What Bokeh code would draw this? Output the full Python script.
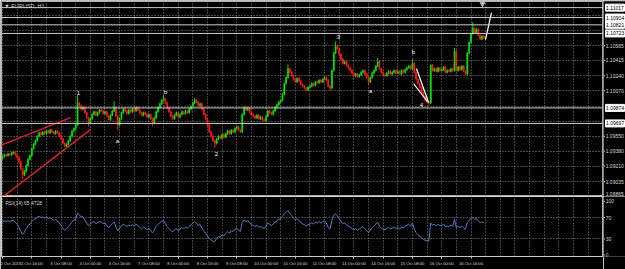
import numpy as np
from bokeh.plotting import figure
from bokeh.layouts import column, row
from bokeh.models import Range1d, FixedTicker, Span, Label, ColumnDataSource
from bokeh.core.properties import value
from bokeh.embed import file_html
from bokeh.resources import INLINE

# ---------------- data ----------------
symbol_title = "\u25BC EURUSD, H1"
rsi_title = "RSI(14) 65.4728"
first_open = 1.0930
closes = [
    1.0932, 1.0934, 1.0933, 1.0935, 1.0934, 1.0936, 1.0937, 1.0934, 1.0931,
    1.0926, 1.0918, 1.0911,
    1.0915, 1.0922, 1.0929, 1.0933, 1.0941, 1.0946, 1.0950, 1.0955, 1.0959,
    1.0957, 1.0960, 1.0958, 1.0961, 1.0959, 1.0962, 1.0960, 1.0958, 1.0961,
    1.0959, 1.0956, 1.0952, 1.0947, 1.0944, 1.0946,
    1.0950, 1.0955, 1.0961, 1.0964, 1.0968,
    1.0993, 1.0990, 1.0986, 1.0988, 1.0982, 1.0976, 1.0970, 1.0975,
    1.0980, 1.0983, 1.0979, 1.0982, 1.0985, 1.0984, 1.0981,
    1.0983, 1.0978, 1.0974, 1.0979,
    1.0984, 1.0988, 1.0978, 1.0968,
    1.0975, 1.0982, 1.0986, 1.0984, 1.0981, 1.0985, 1.0983, 1.0986,
    1.0984, 1.0988, 1.0985, 1.0982, 1.0979, 1.0982, 1.0980, 1.0977,
    1.0980, 1.0975, 1.0970, 1.0976,
    1.0983, 1.0988, 1.0992, 1.0996, 1.0998,
    1.0993, 1.0987, 1.0983, 1.0978,
    1.0975, 1.0979, 1.0982, 1.0977,
    1.0980, 1.0983, 1.0981, 1.0984,
    1.0982, 1.0986, 1.0989, 1.0993, 1.0996,
    1.0994, 1.0990, 1.0992,
    1.0986, 1.0980, 1.0975, 1.0968,
    1.0960, 1.0955, 1.0950, 1.0947, 1.0952, 1.0955, 1.0953,
    1.0957, 1.0954, 1.0958, 1.0961, 1.0958, 1.0962, 1.0960, 1.0964,
    1.0966, 1.0962, 1.0960,
    1.0980, 1.0988, 1.0985, 1.0987,
    1.0983, 1.0980, 1.0978, 1.0976, 1.0979, 1.0975, 1.0977, 1.0974,
    1.0973,
    1.0978, 1.0984, 1.0982, 1.0980,
    1.0984, 1.0988, 1.0991, 1.0994, 1.0996,
    1.1003, 1.1015, 1.1022, 1.1032,
    1.1028, 1.1024, 1.1020, 1.1017,
    1.1021, 1.1018, 1.1014, 1.1012,
    1.1010, 1.1008, 1.1011,
    1.1012, 1.1015, 1.1013, 1.1017, 1.1016,
    1.1019, 1.1017, 1.1020, 1.1022, 1.1019,
    1.1012, 1.1010,
    1.1030, 1.1050, 1.1058,
    1.1055, 1.1048, 1.1043, 1.1038,
    1.1040, 1.1036, 1.1033, 1.1030, 1.1027,
    1.1024, 1.1026, 1.1023, 1.1025,
    1.1028, 1.1030, 1.1026, 1.1022,
    1.1017,
    1.1022, 1.1027, 1.1030,
    1.1035, 1.1040,
    1.1032, 1.1028, 1.1025, 1.1024,
    1.1027, 1.1029, 1.1026, 1.1028, 1.1030, 1.1027,
    1.1029, 1.1026, 1.1030, 1.1028, 1.1031, 1.1033,
    1.1035, 1.1032, 1.1038,
    1.1028, 1.1020, 1.1015, 1.1011, 1.1005, 1.1000, 1.0996, 1.0994, 1.0993,
    1.1036, 1.1030, 1.1032, 1.1029, 1.1033, 1.1030,
    1.1031, 1.1034, 1.1028, 1.1030, 1.1029, 1.1032, 1.1030,
    1.1052, 1.1030, 1.1034, 1.1031, 1.1035, 1.1029, 1.1026,
    1.1050, 1.1062, 1.1072, 1.1078, 1.1073, 1.1077, 1.1070, 1.1066, 1.1069, 1.1067,
]
wick_default = 0.00012
high_marks = {41: 1.1002, 61: 1.0995, 88: 1.1002, 105: 1.0999, 156: 1.1037,
              182: 1.1063, 205: 1.1044, 224: 1.1043, 247: 1.1056, 257: 1.1085}
low_marks = {11: 1.0906, 47: 1.0966, 63: 1.0962, 82: 1.0966, 116: 1.0942,
             179: 1.1007, 200: 1.1013, 233: 1.0990}

# RSI(14) state carried in from the bars before the visible window
rsi_period = 14
rsi_seed_gain = 0.00030
rsi_seed_loss = 0.00019

price_ticks = [1.08865, 1.09035, 1.09210, 1.09380, 1.09550, 1.10070,
               1.10240, 1.10415, 1.10585]
grid_price_ticks = price_ticks + [1.09720, 1.09890, 1.10755, 1.10925]
level_lines = [1.11017, 1.10904, 1.10821, 1.10723, 1.09874, 1.09697]

time_ticks = list(range(0, 257, 16))
time_labels = ["2 Oct 2019", "2 Oct 16:00", "3 Oct 08:00", "4 Oct 00:00",
               "4 Oct 16:00", "7 Oct 08:00", "8 Oct 00:00", "8 Oct 16:00",
               "9 Oct 08:00", "10 Oct 00:00", "10 Oct 16:00", "11 Oct 08:00",
               "14 Oct 00:00", "14 Oct 16:00", "15 Oct 08:00", "16 Oct 00:00",
               "16 Oct 16:00"]
grid_time_ticks = list(range(0, 330, 8))

rsi_ticks = [0, 30, 70, 100]
rsi_grid = [30, 70]

wave_text = ["1", "a", "b", "2", "3", "a", "b", "4"]
wave_bar = [41.5, 62.8, 89.1, 116.9, 183.6, 201.1, 224.6, 228.9]
wave_price = [1.1004, 1.0950, 1.1005, 1.0935, 1.1068, 1.1007, 1.1051, 1.0991]

red_lines_x = [[-1.1, 37.2], [-1.1, 48.1]]
red_lines_y = [[1.09445, 1.09764], [1.0884, 1.09627]]
white_lines_x = [[226.2, 232.8], [224.6, 232.2], [263.9, 267.2]]
white_lines_y = [[1.10323, 1.09935], [1.10152, 1.09947], [1.10653, 1.10961]]

# ---------------- derived ----------------
n = len(closes)
idx = np.arange(n)
opens = [first_open] + closes[:-1]
tops = [max(o, c) for o, c in zip(opens, closes)]
bots = [min(o, c) for o, c in zip(opens, closes)]
highs = [high_marks.get(i, tops[i] + wick_default) for i in range(n)]
lows = [low_marks.get(i, bots[i] - wick_default) for i in range(n)]
colors = ["#00e000" if c >= o else "#ff1a1a" for o, c in zip(opens, closes)]
src = ColumnDataSource(dict(x=idx, top=tops, bottom=bots, high=highs, low=lows,
                            color=colors))

ag, al = rsi_seed_gain, rsi_seed_loss
rsi = []
for o, c in zip(opens, closes):
    ch = c - o
    ag = (ag * (rsi_period - 1) + max(ch, 0.0)) / rsi_period
    al = (al * (rsi_period - 1) + max(-ch, 0.0)) / rsi_period
    rsi.append(100 - 100 / (1 + ag / al))

BG = "black"
GRID = "#8a8a8a"
AXC = "#c8c8c8"
LBL = "#d8d8d8"
FONT = "Liberation Sans"

xr = Range1d(-0.55, 328.4)
py = Range1d(1.08864, 1.11087)
ry = Range1d(-2.85, 109.3)

# ---------------- price panel ----------------
p = figure(width=603, height=196, x_range=xr, y_range=py,
           x_axis_location=None, y_axis_location=None,
           min_border_left=1, min_border_right=0, min_border_top=1,
           min_border_bottom=0, output_backend="svg", toolbar_location=None,
           background_fill_color=BG, border_fill_color=BG,
           outline_line_color="#b0b0b0")
p.xgrid.ticker = FixedTicker(ticks=grid_time_ticks)
p.ygrid.ticker = FixedTicker(ticks=grid_price_ticks)
for g in (p.xgrid, p.ygrid):
    g.grid_line_color = GRID
    g.grid_line_dash = "1 2"
    g.grid_line_width = 1

for lv in level_lines:
    p.add_layout(Span(location=lv, dimension="width", line_color="#cfcfcf",
                      line_width=1))

p.segment(x0="x", y0="low", x1="x", y1="high", color="color", line_width=1,
          source=src)
p.vbar(x="x", width=0.65, top="top", bottom="bottom", fill_color="color",
       line_color="color", line_width=0.5, source=src)

p.multi_line(xs=red_lines_x, ys=red_lines_y, line_color="#e0202a", line_width=1.4)
p.multi_line(xs=white_lines_x, ys=white_lines_y, line_color="white", line_width=1.2)

p.text(x=wave_bar, y=wave_price, text=wave_text, text_color="white",
       text_font_size="6px", text_align="center", text_baseline="middle",
       text_font=value(FONT))
p.scatter(x=[262.3], y=[1.11062], marker="inverted_triangle", size=5,
          color="#bdbdbd")
p.add_layout(Label(x=1.0, y=1.11041, text=symbol_title, text_font_size="5.5px",
                   text_color="#d0d0d0", text_baseline="middle", text_font=FONT))

# price scale strip (right)
s = figure(width=22, height=196, x_range=Range1d(0, 22), y_range=py,
           x_axis_location=None, y_axis_location=None,
           min_border_left=0, min_border_right=0, min_border_top=1,
           min_border_bottom=0, output_backend="svg", toolbar_location=None,
           background_fill_color=BG, border_fill_color=BG,
           outline_line_color=None)
s.grid.visible = False
s.segment(x0=[0] * len(price_ticks), y0=price_ticks, x1=[1.5] * len(price_ticks),
          y1=price_ticks, line_color=AXC, line_width=1)
s.text(x=[2.2] * (len(price_ticks) - 1), y=price_ticks[1:],
       text=[f"{t:.5f}" for t in price_ticks[1:]], text_color=LBL,
       text_font_size="5px", text_baseline="middle", text_font=value(FONT))
s.text(x=[2.2], y=price_ticks[:1], text=[f"{price_ticks[0]:.5f}"], text_color=LBL,
       text_font_size="5px", text_baseline="bottom", text_font=value(FONT))
s.rect(x=[11.5] * len(level_lines), y=level_lines, width=19, height=7,
       height_units="screen", fill_color="white", line_color="white")
s.text(x=[2.6] * len(level_lines), y=level_lines,
       text=[f"{t:.5f}" for t in level_lines], text_color="black",
       text_font_size="5px", text_baseline="middle", text_font=value(FONT))

# ---------------- RSI panel ----------------
r = figure(width=603, height=73, x_range=xr, y_range=ry,
           y_axis_location=None,
           min_border_left=1, min_border_right=0, min_border_top=0,
           min_border_bottom=13, output_backend="svg", toolbar_location=None,
           background_fill_color=BG, border_fill_color=BG,
           outline_line_color="#d0d0d0")
r.xgrid.ticker = FixedTicker(ticks=grid_time_ticks)
r.ygrid.ticker = FixedTicker(ticks=rsi_grid)
for g in (r.xgrid, r.ygrid):
    g.grid_line_color = GRID
    g.grid_line_dash = "1 2"

xa = r.xaxis[0]
xa.ticker = FixedTicker(ticks=time_ticks)
xa.major_label_overrides = {t: s_ for t, s_ in zip(time_ticks, time_labels)}
xa.major_label_text_font_size = "4.2px"
xa.major_label_text_font = FONT
xa.major_label_text_color = LBL
xa.major_label_text_align = "left"
xa.axis_line_color = AXC
xa.major_tick_line_color = AXC
xa.major_tick_out = 2
xa.major_tick_in = 0
xa.minor_tick_line_color = None
xa.major_label_standoff = 2

r.line(x=idx, y=rsi, line_color="#5a78c8", line_width=1)
r.add_layout(Label(x=1.6, y=98, text=rsi_title, text_font_size="5px",
                   text_color="#d0d0d0", text_baseline="middle", text_font=FONT))

sr = figure(width=22, height=73, x_range=Range1d(0, 22), y_range=ry,
            x_axis_location=None, y_axis_location=None,
            min_border_left=0, min_border_right=0, min_border_top=0,
            min_border_bottom=13, output_backend="svg", toolbar_location=None,
            background_fill_color=BG, border_fill_color=BG,
            outline_line_color=None)
sr.grid.visible = False
sr.segment(x0=[0] * len(rsi_ticks), y0=rsi_ticks, x1=[1.5] * len(rsi_ticks),
           y1=rsi_ticks, line_color=AXC, line_width=1)
sr.text(x=[2.2] * len(rsi_ticks), y=rsi_ticks, text=[str(t) for t in rsi_ticks],
        text_color=LBL, text_font_size="5px", text_baseline="middle",
        text_font=value(FONT))

layout = column(row(p, s, spacing=0), row(r, sr, spacing=0), spacing=0)
open("out.html", "w").write(file_html(layout, INLINE))
